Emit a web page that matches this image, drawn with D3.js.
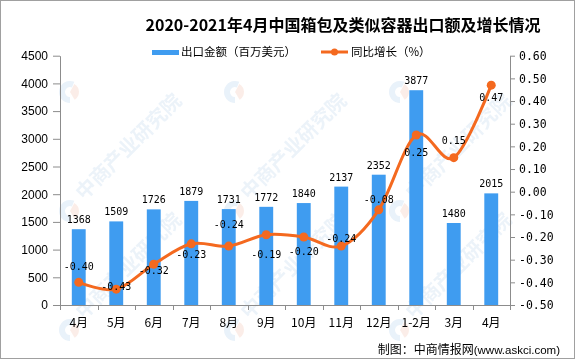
<!DOCTYPE html>
<html>
<head>
<meta charset="utf-8">
<script src="https://cdn.jsdelivr.net/npm/d3@7"></script>
<style>
  body { margin: 0; background: #fff; }
  svg { display: block; }
</style>
</head>
<body>
<svg id="chart"></svg>
<script>
// chart data
var months = ['4月', '5月', '6月', '7月', '8月', '9月', '10月', '11月', '12月', '1-2月', '3月', '4月'];
var exportValues = [1368, 1509, 1726, 1879, 1731, 1772, 1840, 2137, 2352, 3877, 1480, 2015];
var growthValues = [-0.40, -0.43, -0.32, -0.23, -0.24, -0.19, -0.20, -0.24, -0.08, 0.25, 0.15, 0.47];
var leftTicks = [0, 500, 1000, 1500, 2000, 2500, 3000, 3500, 4000, 4500];
var rightTicks = [-0.5, -0.4, -0.3, -0.2, -0.1, 0, 0.1, 0.2, 0.3, 0.4, 0.5, 0.6];
// label placement for the growth line (vertical shift from the point)
var growthLabelShift = [-16, -3, 6, 10, -22, 19, 14, -8, -11, 17, -18, 12];

var width = 575, height = 359;
var plotLeft = 60, plotRight = 510, plotTop = 55.7, plotBottom = 305;
var cjk = '"Noto Sans CJK SC", sans-serif';

var svg = d3.select('#chart')
    .attr('width', width)
    .attr('height', height);

svg.append('rect')
    .attr('x', 0.5).attr('y', 0.5)
    .attr('width', width - 1).attr('height', height - 1)
    .attr('fill', '#fff')
    .attr('stroke', '#a0a0a0');

// watermark (faint)
var wm = svg.append('g').attr('opacity', 0.4);
[70, 235, 400].forEach(function(cx) {
    [92, 211, 330].forEach(function(cy) {
        var g = wm.append('g').attr('transform', 'translate(' + cx + ',' + cy + ')');
        g.append('path')
            .attr('d', d3.arc()({innerRadius: 5, outerRadius: 11, startAngle: Math.PI, endAngle: 2 * Math.PI + 0.4}))
            .attr('fill', '#c9def2');
        g.append('path')
            .attr('d', d3.arc()({innerRadius: 0, outerRadius: 9, startAngle: 0.5, endAngle: 2.6}))
            .attr('fill', '#f6d3c6');
        if (cy > 100) {
            g.append('text')
                .attr('transform', 'translate(14,-10) rotate(-45)')
                .attr('font-family', cjk)
                .attr('font-weight', 700)
                .attr('font-size', 20)
                .attr('fill', '#cfe0f1')
                .text('中商产业研究院');
        }
    });
});

// scales
var xScale = d3.scaleBand()
    .domain(d3.range(months.length))
    .range([plotLeft, plotRight]);

var yLeft = d3.scaleLinear()
    .domain([0, 4500])
    .range([plotBottom, plotTop]);

var yRight = d3.scaleLinear()
    .domain([-0.5, 0.6])
    .range([plotBottom, plotTop]);

// axes
var leftAxis = d3.axisLeft(yLeft)
    .tickValues(leftTicks)
    .tickSize(7)
    .tickSizeOuter(0)
    .tickPadding(5)
    .tickFormat(function(d) { return String(d); });
var gL = svg.append('g')
    .attr('transform', 'translate(' + plotLeft + ',0)')
    .call(leftAxis);

var rightAxis = d3.axisRight(yRight)
    .tickValues(rightTicks)
    .tickSize(5)
    .tickSizeOuter(0)
    .tickPadding(4)
    .tickFormat(function(d) { return d.toFixed(2); });
var gR = svg.append('g')
    .attr('transform', 'translate(' + plotRight + ',0)')
    .call(rightAxis);

gL.selectAll('text').attr('font-family', '"Liberation Sans", Arial, sans-serif').attr('font-size', 12).attr('fill', '#000');
gR.selectAll('text').attr('font-family', '"DejaVu Sans Mono", monospace').attr('font-size', 11.5).attr('fill', '#000');
[gL, gR].forEach(function(g) {
    g.selectAll('path, line').attr('stroke', '#8c8c8c');
});

// x axis
var xAxis = d3.axisBottom(xScale)
    .tickSize(0)
    .tickPadding(13)
    .tickFormat(function(i) { return months[i]; });
var gX = svg.append('g')
    .attr('transform', 'translate(0,' + plotBottom + ')')
    .call(xAxis);
gX.select('.domain').remove();
gX.selectAll('text').attr('font-family', cjk).attr('font-size', 12).attr('fill', '#000');

svg.append('line')
    .attr('x1', 55).attr('x2', 514)
    .attr('y1', plotBottom + 0.5).attr('y2', plotBottom + 0.5)
    .attr('stroke', '#8c8c8c');

var boundaries = d3.range(months.length + 1).map(function(i) {
    return plotLeft + i * xScale.step();
});
svg.selectAll('.xtick')
    .data(boundaries)
    .enter()
    .append('line')
    .attr('class', 'xtick')
    .attr('x1', function(d) { return Math.round(d) + 0.5; })
    .attr('x2', function(d) { return Math.round(d) + 0.5; })
    .attr('y1', plotBottom)
    .attr('y2', plotBottom + 5)
    .attr('stroke', '#8c8c8c');

// bars
var barWidth = xScale.bandwidth() * 0.37;
svg.selectAll('.bar')
    .data(exportValues)
    .enter()
    .append('rect')
    .attr('class', 'bar')
    .attr('x', function(d, i) { return xScale(i) + (xScale.bandwidth() - barWidth) / 2; })
    .attr('y', function(d) { return yLeft(d); })
    .attr('width', barWidth)
    .attr('height', function(d) { return plotBottom - yLeft(d); })
    .attr('fill', '#3f9cf0');

svg.selectAll('.bar-label')
    .data(exportValues)
    .enter()
    .append('text')
    .attr('class', 'bar-label')
    .attr('x', function(d, i) { return xScale(i) + xScale.bandwidth() / 2; })
    .attr('y', function(d) { return yLeft(d) - 6; })
    .attr('text-anchor', 'middle')
    .attr('font-family', '"DejaVu Sans Mono", monospace')
    .attr('font-size', 10)
    .text(function(d) { return d; });

// growth line
var line = d3.line()
    .x(function(d, i) { return xScale(i) + xScale.bandwidth() / 2; })
    .y(function(d) { return yRight(d); })
    .curve(d3.curveCardinal.tension(0));

svg.append('path')
    .datum(growthValues)
    .attr('d', line)
    .attr('fill', 'none')
    .attr('stroke', '#f4691f')
    .attr('stroke-width', 3);

svg.selectAll('.dot')
    .data(growthValues)
    .enter()
    .append('circle')
    .attr('class', 'dot')
    .attr('cx', function(d, i) { return xScale(i) + xScale.bandwidth() / 2; })
    .attr('cy', function(d) { return yRight(d); })
    .attr('r', 4.5)
    .attr('fill', '#f4691f');

svg.selectAll('.line-label')
    .data(growthValues)
    .enter()
    .append('text')
    .attr('class', 'line-label')
    .attr('x', function(d, i) { return xScale(i) + xScale.bandwidth() / 2; })
    .attr('y', function(d, i) { return yRight(d) + growthLabelShift[i] + 4; })
    .attr('text-anchor', 'middle')
    .attr('font-family', '"DejaVu Sans Mono", monospace')
    .attr('font-size', 10)
    .text(function(d) { return d.toFixed(2); });

// title
svg.append('text')
    .attr('x', 343)
    .attr('y', 31)
    .attr('text-anchor', 'middle')
    .attr('font-family', cjk)
    .attr('font-weight', 700)
    .attr('font-size', 16)
    .text('2020-2021年4月中国箱包及类似容器出口额及增长情况');

// legend
var legend = svg.append('g');
legend.append('rect')
    .attr('x', 152).attr('y', 50)
    .attr('width', 27).attr('height', 5)
    .attr('fill', '#3f9cf0');
legend.append('text')
    .attr('x', 181).attr('y', 56)
    .attr('font-family', cjk)
    .attr('font-size', 11.5)
    .text('出口金额（百万美元）');
legend.append('line')
    .attr('x1', 321).attr('x2', 348)
    .attr('y1', 52).attr('y2', 52)
    .attr('stroke', '#f4691f')
    .attr('stroke-width', 3);
legend.append('circle')
    .attr('cx', 334.5).attr('cy', 52)
    .attr('r', 3.5)
    .attr('fill', '#f4691f');
legend.append('text')
    .attr('x', 351).attr('y', 56)
    .attr('font-family', cjk)
    .attr('font-size', 11.5)
    .text('同比增长（%）');

// footer
var footer = svg.append('text')
    .attr('x', 560)
    .attr('y', 354)
    .attr('text-anchor', 'end');
footer.append('tspan')
    .attr('font-family', cjk)
    .attr('font-size', 12)
    .text('制图：中商情报网');
footer.append('tspan')
    .attr('font-family', '"Liberation Sans", Arial, sans-serif')
    .attr('font-size', 11.5)
    .text('(www.askci.com)');
</script>
</body>
</html>
